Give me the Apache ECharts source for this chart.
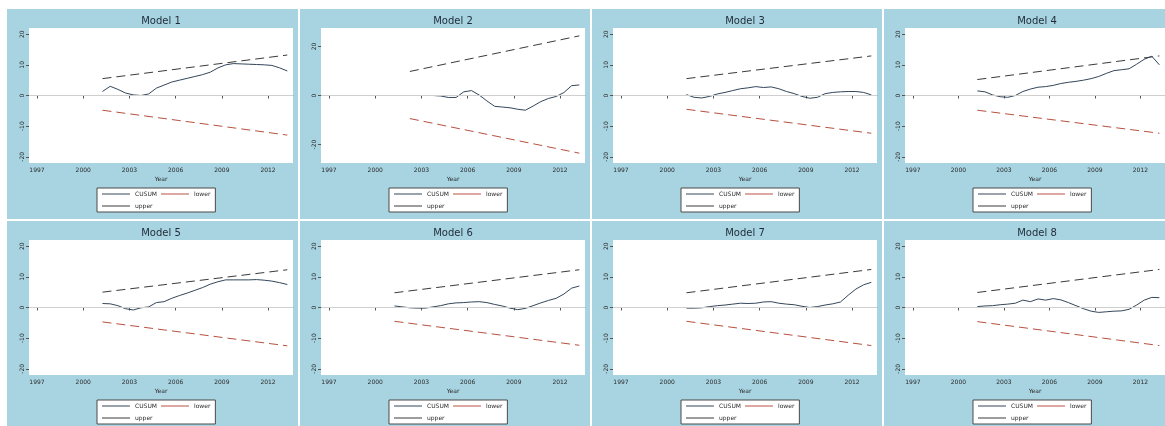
<!DOCTYPE html>
<html>
<head>
<meta charset="utf-8">
<script src="https://cdn.jsdelivr.net/npm/echarts@6/dist/echarts.min.js"></script>
<style>
html,body{margin:0;padding:0;background:#fff;}
#chart{width:1165px;height:426px;}
</style>
</head>
<body>
<div id="chart"></div>
<script>
// ---- data ----
const modelNames = ['Model 1','Model 2','Model 3','Model 4','Model 5','Model 6','Model 7','Model 8'];
const years = [2001.25,2001.75,2002.25,2002.75,2003.25,2003.75,2004.25,2004.75,2005.25,2005.75,
               2006.25,2006.75,2007.25,2007.75,2008.25,2008.75,2009.25,2009.75,2010.25,2010.75,
               2011.25,2011.75,2012.25,2012.75,2013.25];
const xTickYears = [1997,2000,2003,2006,2009,2012];
const yTicksFive = [-20,-10,0,10,20];
const yTicksThree = [-20,0,20];

const cusum1 = [1.3,3.0,2.0,0.8,0.2,0.0,0.5,2.4,3.4,4.4,5.0,5.6,6.2,6.8,7.6,9.0,10.0,10.4,10.3,10.2,10.1,10.0,9.8,9.0,8.0];
const cusum2 = [null,null,0,0,0,0,-0.2,-0.8,-0.8,1.5,2.0,0.2,-2.2,-4.4,-4.7,-5.0,-5.6,-6.0,-4.3,-2.5,-1.2,-0.4,1.2,4.0,4.3];
const cusum3 = [0.3,-0.6,-0.8,-0.3,0.5,1.0,1.6,2.2,2.5,2.9,2.6,2.8,2.2,1.3,0.6,-0.3,-0.9,-0.6,0.6,1.0,1.2,1.3,1.3,1.0,0.2];
const cusum4 = [1.5,1.2,0.2,-0.4,-0.6,0.0,1.3,2.1,2.7,2.9,3.3,3.9,4.3,4.6,5.0,5.5,6.2,7.2,8.1,8.4,8.7,10.2,11.8,12.8,10.0];
const cusum5 = [1.3,1.2,0.6,-0.4,-0.8,-0.1,0.2,1.6,1.9,3.0,3.9,4.7,5.6,6.5,7.6,8.4,9.0,9.0,9.0,9.0,9.1,8.9,8.6,8.1,7.5];
const cusum6 = [0.5,0.2,-0.1,-0.2,-0.2,0.2,0.6,1.2,1.5,1.6,1.8,1.9,1.6,1.0,0.5,-0.2,-0.7,-0.3,0.6,1.5,2.3,3.0,4.4,6.3,7.0];
const cusum7 = [-0.2,-0.2,-0.1,0.3,0.6,0.8,1.1,1.4,1.3,1.4,1.8,1.9,1.4,1.1,0.9,0.4,0.0,0.3,0.8,1.2,1.8,4.0,6.0,7.4,8.2];
const cusum8 = [0.3,0.5,0.6,0.9,1.1,1.4,2.4,1.9,2.8,2.4,2.9,2.5,1.6,0.6,-0.4,-1.2,-1.6,-1.4,-1.2,-1.1,-0.6,0.8,2.4,3.3,3.2];

// boundary lines: [value at start, value at end]
const upper1 = [5.5,13.2],  lower1 = [-4.8,-12.9];
const upper2 = [9.8,24.3],  lower2 = [-9.4,-23.5];
const upper3 = [5.5,12.9],  lower3 = [-4.5,-12.3];
const upper4 = [5.2,12.9],  lower4 = [-4.8,-12.3];
const upper5 = [5.0,12.3],  lower5 = [-4.7,-12.5];
const upper6 = [4.8,12.3],  lower6 = [-4.5,-12.3];
const upper7 = [4.8,12.4],  lower7 = [-4.5,-12.4];
const upper8 = [4.9,12.4],  lower8 = [-4.6,-12.4];

const cusums = [cusum1,cusum2,cusum3,cusum4,cusum5,cusum6,cusum7,cusum8];
const uppers = [upper1,upper2,upper3,upper4,upper5,upper6,upper7,upper8];
const lowers = [lower1,lower2,lower3,lower4,lower5,lower6,lower7,lower8];
const yLimits = [22,27.5,22,22,22,22,22,22];
const yTickSets = [yTicksFive,yTicksThree,yTicksFive,yTicksFive,yTicksFive,yTicksFive,yTicksFive,yTicksFive];

// ---- layout / style ----
const PANEL_BG = '#a8d4e2';
const TEXT = '#2a2a2a';
const C_CUSUM = '#34465a';
const C_LOWER = '#b8503f';
const C_UPPER = '#3a3a3a';

const grids = [], xAxes = [], yAxes = [], series = [], titles = [], legends = [];
for (let i = 0; i < 8; i++) {
  const r = Math.floor(i / 4), c = i % 4;
  const gl = 29 + 292 * c, gt = 28 + 212 * r, gw = 264, gh = 135;
  grids.push({left: gl, top: gt, width: gw, height: gh, show: true,
              backgroundColor: '#ffffff', borderWidth: 0, containLabel: false});
  xAxes.push({
    type: 'value', gridIndex: i, min: 1996.48, max: 2013.62,
    name: 'Year', nameLocation: 'middle', nameGap: 13,
    nameTextStyle: {fontSize: 6, color: TEXT, fontFamily: 'DejaVu Sans'},
    axisLine: {show: true, lineStyle: {color: '#8a9aa0', width: 1}},
    axisTick: {show: true, length: 3, inside: false, customValues: xTickYears, lineStyle: {color: '#555'}},
    axisLabel: {show: true, fontSize: 6, color: TEXT, margin: 4, fontFamily: 'DejaVu Sans',
                customValues: xTickYears, formatter: v => String(v)},
    splitLine: {show: false}
  });
  const lim = yLimits[i];
  yAxes.push({
    type: 'value', gridIndex: i, min: -lim, max: lim,
    axisLine: {show: false},
    axisTick: {show: true, length: 3, customValues: yTickSets[i], lineStyle: {color: '#555'}},
    axisLabel: {show: true, fontSize: 6, color: TEXT, rotate: 90, margin: 4, fontFamily: 'DejaVu Sans',
                customValues: yTickSets[i], formatter: v => String(v)},
    splitLine: {show: false}
  });
  const cs = cusums[i];
  let first = 0; while (cs[first] === null) first++;
  const x0 = years[first], x1 = years[years.length - 1];
  series.push({
    name: 'CUSUM', type: 'line', xAxisIndex: i, yAxisIndex: i, symbol: 'none', silent: true,
    data: years.map((y, j) => [y, cs[j]]), connectNulls: false,
    lineStyle: {color: C_CUSUM, width: 1}, itemStyle: {color: C_CUSUM}, z: 3,
    markLine: {silent: true, symbol: 'none', label: {show: false}, animation: false,
               lineStyle: {color: '#cfcfcf', width: 1, type: 'solid'}, data: [{yAxis: 0}]}
  });
  series.push({
    name: 'lower', type: 'line', xAxisIndex: i, yAxisIndex: i, symbol: 'none', silent: true,
    data: [[x0, lowers[i][0]], [x1, lowers[i][1]]],
    lineStyle: {color: C_LOWER, width: 1, type: [9, 5]}, itemStyle: {color: C_LOWER}, z: 2
  });
  series.push({
    name: 'upper', type: 'line', xAxisIndex: i, yAxisIndex: i, symbol: 'none', silent: true,
    data: [[x0, uppers[i][0]], [x1, uppers[i][1]]],
    lineStyle: {color: C_UPPER, width: 1, type: [9, 5]}, itemStyle: {color: C_UPPER}, z: 2
  });
  titles.push({
    text: modelNames[i], left: gl + gw / 2, top: gt - 12, textAlign: 'center', padding: 0,
    textStyle: {fontSize: 10, fontWeight: 'normal', color: '#1e2a36', fontFamily: 'DejaVu Sans'}
  });
  legends.push({
    data: ['CUSUM', 'lower', 'upper'], left: gl + 68, top: gt + 160, width: 116,
    orient: 'horizontal', backgroundColor: '#ffffff', borderColor: '#4a4a4a', borderWidth: 1,
    padding: [2, 5], itemGap: 4, itemWidth: 28, itemHeight: 1, icon: 'rect', selectedMode: false,
    textStyle: {fontSize: 6, color: TEXT, fontFamily: 'DejaVu Sans', lineHeight: 8}
  });
}

// white separators between panels
const graphics = [
  {type: 'rect', shape: {x: 0, y: 0, width: 7, height: 426}, style: {fill: '#fff'}, z: 100},
  {type: 'rect', shape: {x: 0, y: 0, width: 1165, height: 9}, style: {fill: '#fff'}, z: 100},
  {type: 'rect', shape: {x: 0, y: 219, width: 1165, height: 2}, style: {fill: '#fff'}, z: 100}
];
for (let k = 1; k < 4; k++) {
  graphics.push({type: 'rect', shape: {x: 7 + 292 * k - 1, y: 0, width: 2, height: 426}, style: {fill: '#fff'}, z: 100});
}

const chart = echarts.init(document.getElementById('chart'), null, {renderer: 'canvas'});
chart.setOption({
  animation: false,
  backgroundColor: PANEL_BG,
  title: titles,
  legend: legends,
  grid: grids,
  xAxis: xAxes,
  yAxis: yAxes,
  series: series,
  graphic: graphics
});
</script>
</body>
</html>
